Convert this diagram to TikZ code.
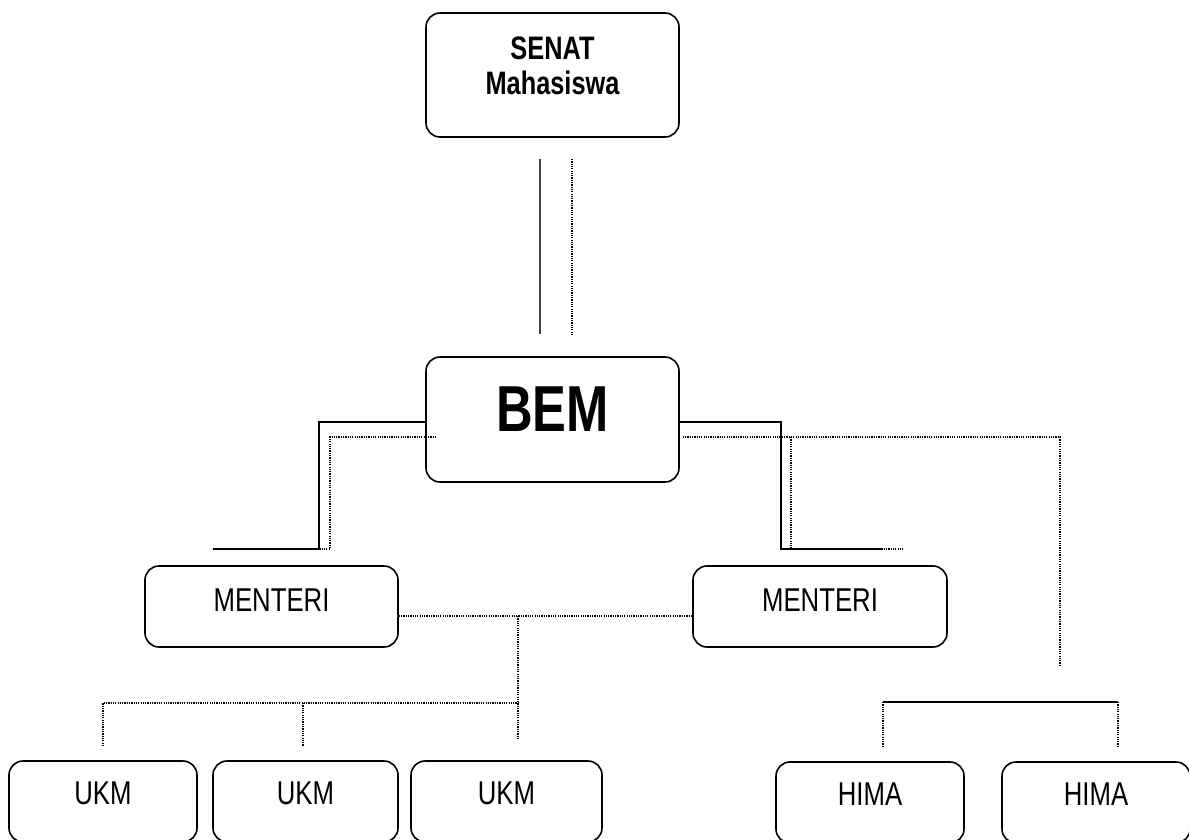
\documentclass[tikz,border=0pt]{standalone}
\usepackage{fontspec}
\setmainfont{Liberation Sans}[FakeStretch=0.78]
\begin{document}
\begin{tikzpicture}[x=1pt,y=-1pt,
  box/.style={draw, line width=1.6pt, rounded corners=14pt, inner sep=0pt},
  lbl/.style={inner sep=0pt, align=center, font=\fontsize{33}{35}\selectfont},
  solidline/.style={line width=1.8pt},
  thinline/.style={line width=1.3pt, black!75},
  dotline/.style={line width=1.2pt, dash pattern=on 1.2pt off 1.1pt}]
\useasboundingbox (0,0) rectangle (1189,839);

% boxes
\node[box, minimum width=253pt, minimum height=124pt] (senat) at (552.5,75) {};
\node[box, minimum width=253pt, minimum height=125pt] (bem) at (552.5,419.5) {};
\node[box, minimum width=253pt, minimum height=81pt] (mentL) at (271.5,606.5) {};
\node[box, minimum width=254pt, minimum height=81pt] (mentR) at (820,606.5) {};
\node[box, minimum width=188pt, minimum height=81pt] (ukmA) at (103,801.5) {};
\node[box, minimum width=185pt, minimum height=81pt] (ukmB) at (305.5,801.5) {};
\node[box, minimum width=191pt, minimum height=81pt] (ukmC) at (506.5,801.5) {};
\node[box, minimum width=188pt, minimum height=81pt] (himaA) at (870,802.5) {};
\node[box, minimum width=188pt, minimum height=81pt] (himaB) at (1096,802.5) {};

% labels
\node[lbl, font=\fontsize{32.5}{35}\selectfont\bfseries] (senat-t) at (552.5,65.5) {SENAT\\Mahasiswa};
\node[lbl, font=\fontsize{65}{70}\selectfont\bfseries] (bem-t) at (552.5,409) {BEM};
\node[lbl] (mentL-t) at (271.5,600) {MENTERI};
\node[lbl] (mentR-t) at (820,600) {MENTERI};
\node[lbl] (ukmA-t) at (103,793) {UKM};
\node[lbl] (ukmB-t) at (305.5,793) {UKM};
\node[lbl] (ukmC-t) at (506.5,793) {UKM};
\node[lbl] (himaA-t) at (870,794) {HIMA};
\node[lbl] (himaB-t) at (1096,794) {HIMA};

% free ends and bends
\coordinate (s1) at (540,159);  \coordinate (s2) at (540,334);
\coordinate (d1) at (572,159);  \coordinate (d2) at (572,334);
\coordinate (lsol) at (213,549); \coordinate (lbend) at (319,549);
\coordinate (ldot) at (330,549);
\coordinate (rsol) at (883,549); \coordinate (rbend) at (781,549);
\coordinate (rdotA) at (791,437); \coordinate (rdotB) at (791,549); \coordinate (rdotC) at (903,549);
\coordinate (hdrop) at (1060,665);
\coordinate (hL) at (883,702); \coordinate (hR) at (1118,702);
\coordinate (hLe) at (883,747); \coordinate (hRe) at (1118,747);
\coordinate (mid) at (518,616); \coordinate (midE) at (518,740);
\coordinate (uJ) at (518,703);
\coordinate (uA) at (103,703); \coordinate (uAe) at (103,746);
\coordinate (uB) at (303,703); \coordinate (uBe) at (303,746);

% senat to bem
\draw[thinline] (s1) -- (s2);
\draw[dotline] (d1) -- (d2);

% bem to the ministers
\draw[solidline] ([yshift=-2.5pt]bem.west) -| (lbend) -- (lsol);
\draw[dotline] ([xshift=11pt,yshift=-17.5pt]bem.west) -| (ldot) -- (lsol);
\draw[solidline] ([yshift=-2.5pt]bem.east) -| (rbend) -- (rsol);
\draw[dotline] ([xshift=3pt,yshift=-17.5pt]bem.east) -| (hdrop);
\draw[dotline] (rdotA) -- (rdotB) -- (rdotC);

% ministers and UKM
\draw[dotline] ([yshift=-9.5pt]mentL.east) -- ([yshift=-9.5pt]mentR.west);
\draw[dotline] (mid) -- (midE);
\draw[dotline] (uAe) -- (uA) -- (uJ);
\draw[dotline] (uB) -- (uBe);

% HIMA bracket
\draw[solidline] (hL) -- (hR);
\draw[dotline] (hL) -- (hLe);
\draw[dotline] (hR) -- (hRe);
\end{tikzpicture}
\end{document}
